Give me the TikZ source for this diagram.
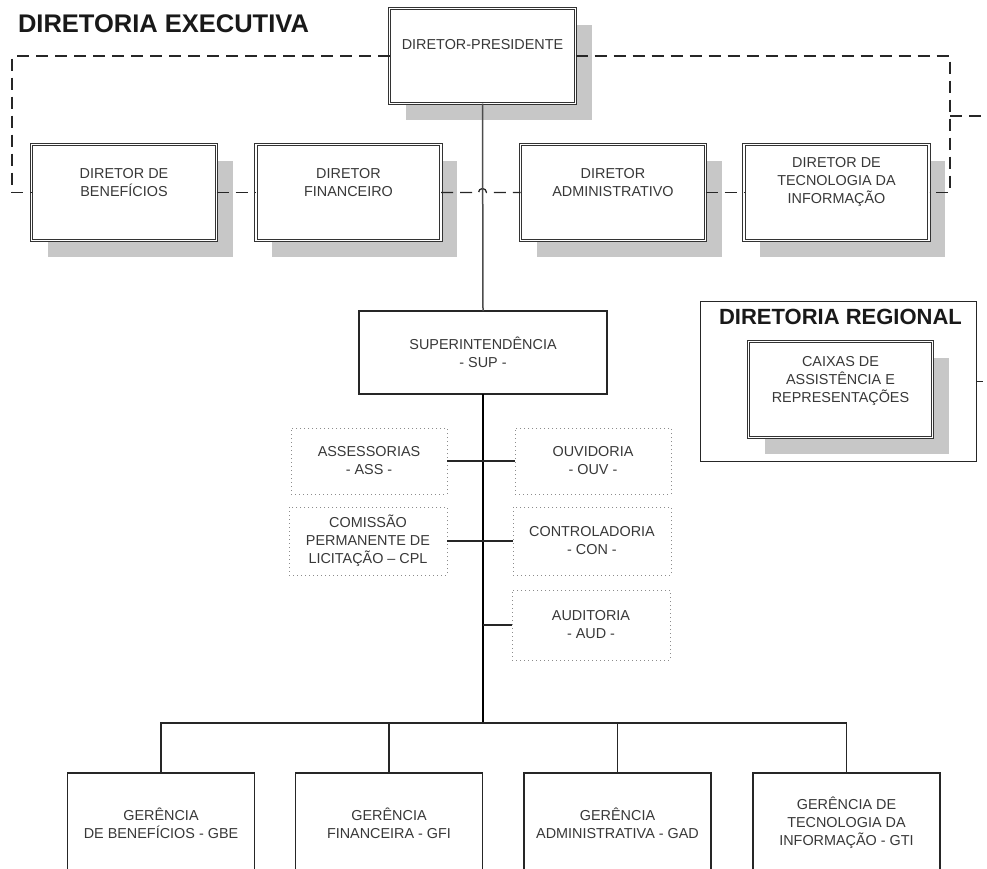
\documentclass[tikz,border=0pt]{standalone}
\usepackage{fontspec}
\setmainfont{Liberation Sans}
\usetikzlibrary{shadows}
\begin{document}
\begin{tikzpicture}[x=1pt,y=-1pt,
  every node/.style={inner sep=0pt, outer sep=0pt},
  boxfont/.style={font=\fontsize{14.4}{18}\selectfont, text=black!78, align=center},
  titlefont/.style={font=\bfseries\fontsize{25.5}{30}\selectfont, text=black!90},
  shadowbox/.style={draw=black!80, line width=0.9pt, double=white, double distance=1.4pt, fill=white,
    drop shadow={shadow xshift=16pt, shadow yshift=-16pt, fill=black!22, opacity=1, draw=none}},
  dirbox/.style={shadowbox, minimum width=185pt, minimum height=96pt},
  plainbox/.style={draw=black!85, line width=1.3pt, fill=white, boxfont},
  dotbox/.style={draw=black!45, line width=0.8pt, dash pattern=on 1pt off 3pt, boxfont},
  dashline/.style={draw=black!85, line width=1.3pt, dash pattern=on 12pt off 7pt},
  thinline/.style={draw=black!70, line width=1.5pt},
  trunkline/.style={draw=black, line width=2.6pt},
  conn/.style={draw=black!85, line width=1.4pt}
]
\useasboundingbox (0,0) rectangle (987,868);
\clip (0,0) rectangle (987,868);

% title
\node[titlefont, anchor=west] (title) at (18,24) {DIRETORIA EXECUTIVA};

% director-presidente
\node[shadowbox, minimum width=186pt, minimum height=95pt] (dp) at (482.5,56) {};
\node[boxfont] (dpt) at ([yshift=11pt]dp.center) {DIRETOR-PRESIDENTE};

% directors
\node[dirbox] (db) at (124,192.5) {};
\node[dirbox] (df) at (348.5,192.5) {};
\node[dirbox] (da) at (613,192.5) {};
\node[dirbox] (dti) at (836.5,192.5) {};
\node[boxfont] (dbt) at ([yshift=9.5pt]db.center) {DIRETOR DE\\BENEFÍCIOS};
\node[boxfont] (dft) at ([yshift=9.5pt]df.center) {DIRETOR\\FINANCEIRO};
\node[boxfont] (dat) at ([yshift=9.5pt]da.center) {DIRETOR\\ADMINISTRATIVO};
\node[boxfont] (dtit) at ([yshift=10.5pt]dti.center) {DIRETOR DE\\TECNOLOGIA DA\\INFORMAÇÃO};

% dashed links
\coordinate (lt) at (12,56);
\coordinate (lb) at (12,192.5);
\coordinate (rt) at (950,56);
\coordinate (rb) at (950,192.5);
\coordinate (rm) at (950,116);
\coordinate (ro) at (992,116);
\coordinate (hop) at (478.5,192.5);
\draw[dashline] (dp.west) -- (lt) -- (lb) -- (db.west);
\draw[dashline] (db.east) -- (df.west);
\draw[dashline] (df.east) -- (hop) arc (180:360:4) -- (da.west);
\draw[dashline] (da.east) -- (dti.west);
\draw[dashline] (dp.east) -- (rt) -- (rb) -- (dti.east);
\draw[dashline] (rm) -- (ro);

% superintendencia
\node[plainbox, minimum width=248pt, minimum height=83pt] (sup) at (483,352.5) {SUPERINTENDÊNCIA\\- SUP -};
\draw[thinline] (dp.south) -- (sup.north);

% trunk and bus
\coordinate (bus) at (483,723);
\draw[trunkline] (sup.south) -- (bus);

% staff units
\node[dotbox, minimum width=156pt, minimum height=66pt] (ass) at (369,461) {ASSESSORIAS\\- ASS -};
\node[dotbox, minimum width=156pt, minimum height=66pt] (ouv) at (593,461) {OUVIDORIA\\- OUV -};
\node[dotbox, minimum width=158pt, minimum height=68pt] (cpl) at (368,541) {COMISSÃO\\PERMANENTE DE\\LICITAÇÃO – CPL};
\node[dotbox, minimum width=158pt, minimum height=68pt] (con) at (592,541) {CONTROLADORIA\\- CON -};
\node[dotbox, minimum width=158pt, minimum height=70pt] (aud) at (591,625) {AUDITORIA\\- AUD -};
\draw[conn] (ass.east) -- (ouv.west);
\draw[conn] (cpl.east) -- (con.west);
\draw[conn] (aud.west) -- (aud.west -| bus);

% gerencias
\node[plainbox, minimum width=187pt, minimum height=100pt] (gbe) at (161,823) {GERÊNCIA\\DE BENEFÍCIOS - GBE};
\node[plainbox, minimum width=187pt, minimum height=100pt] (gfi) at (389,823) {GERÊNCIA\\FINANCEIRA - GFI};
\node[plainbox, minimum width=187pt, minimum height=100pt] (gad) at (617.5,823) {GERÊNCIA\\ADMINISTRATIVA - GAD};
\node[plainbox, minimum width=187pt, minimum height=100pt] (gti) at (846.5,823) {GERÊNCIA DE\\TECNOLOGIA DA\\INFORMAÇÃO - GTI};
\draw[conn] (bus) -| (gbe.north);
\draw[conn] (bus) -| (gfi.north);
\draw[conn] (bus) -| (gad.north);
\draw[conn] (bus) -| (gti.north);

% diretoria regional
\node[draw=black!85, line width=1.3pt, fill=white, minimum width=276pt, minimum height=160pt] (dreg) at (838.5,381.5) {};
\node[titlefont, font=\bfseries\fontsize{22}{27}\selectfont] (dregt) at (840.5,316.5) {DIRETORIA REGIONAL};
\node[shadowbox, minimum width=184pt, minimum height=96pt] (cx) at (840.5,389.5) {};
\node[boxfont] (cxt) at ([yshift=8.5pt]cx.center) {CAIXAS DE\\ASSISTÊNCIA E\\REPRESENTAÇÕES};
\coordinate (tick) at (983,381.5);
\draw[conn, line width=0.9pt] (dreg.east) -- (tick);
\end{tikzpicture}
\end{document}
